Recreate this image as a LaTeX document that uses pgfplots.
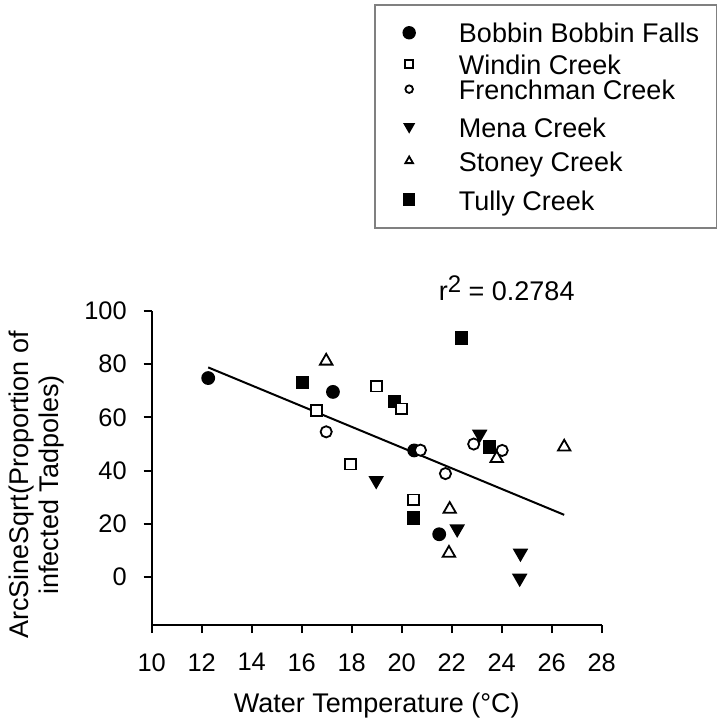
\documentclass[border=0pt]{standalone}
\usepackage{fontspec}
\setmainfont{Liberation Sans}
\usepackage{pgfplots}
\pgfplotsset{compat=1.18}
% strut for a legend row: depth, height above the baseline
\newcommand{\rowstrut}[2]{\rule[-#1]{0pt}{\dimexpr#1+#2\relax}}

\begin{document}
\begin{tikzpicture}
% 1px of the reference = 0.5pt; origin at the lower left of the plot area
\useasboundingbox (-75.85pt,-48.5pt) rectangle (282.65pt,312.5pt);
\begin{axis}[
  at={(0pt,0pt)}, anchor=south west,
  scale only axis, width=225pt, height=157pt,
  xmin=10, xmax=28, ymin=-18, ymax=100,
  xtick={10,12,...,28}, ytick={0,20,...,100},
  axis x line*=bottom, axis y line*=left,
  axis line style={line width=1pt, -},
  tick align=outside, major tick length=4pt,
  every tick/.style={black, line width=1pt},
  /pgf/number format/assume math mode=true,
  tick label style={font=\fontsize{12.7}{14}\selectfont, inner sep=0pt},
  yticklabel style={anchor=east, xshift=-8.3pt},
  xticklabel style={anchor=north, yshift=-10pt},
  xlabel={Water Temperature (°C)},
  every axis x label/.style={at={(axis description cs:0.5,0)}, anchor=north,
    yshift=-34pt, inner sep=0pt, font=\fontsize{13.5}{15}\selectfont},
  ylabel={ArcSineSqrt(Proportion of\\infected Tadpoles)},
  every axis y label/.style={at={(axis description cs:-0.1927,0.446)}, rotate=90,
    anchor=south, align=center, inner sep=0pt, font=\fontsize{13.5}{15}\selectfont},
  clip=false,
  legend style={at={(axis description cs:0.5584,1.9293)}, anchor=north west,
    draw=none, fill=none, inner sep=0pt, row sep=0pt,
    font=\fontsize{13.5}{15}\selectfont,
    nodes={inner sep=0pt},
    /tikz/every odd column/.append style={column sep=22pt}},
  legend cell align=left,
  every axis plot/.append style={line width=0.9pt},
]

% regression line
\addplot[black, line width=1pt, forget plot] coordinates {(12.26,78.8) (26.5,23.4)};

% Bobbin Bobbin Falls
\addplot[only marks, mark=*, mark size=3pt, black, forget plot] coordinates {
  (12.26,74.8) (17.25,69.6) (20.5,47.6) (21.5,16.1)};
% Mena Creek
\addplot[only marks, mark=triangle*, mark size=3.6pt, mark options={rotate=180}, black, forget plot] coordinates {
  (18.98,36.3) (23.12,53.7) (22.22,18.1) (24.75,9.0) (24.72,-0.4)};
% Tully Creek
\addplot[only marks, mark=square*, mark size=2.9pt, black, forget plot] coordinates {
  (16.02,73.1) (19.72,65.9) (22.38,89.9) (23.5,48.9) (20.48,22.2)};
% Windin Creek
\addplot[only marks, mark=square*, mark size=2.7pt, draw=black, fill=white, forget plot] coordinates {
  (16.58,62.5) (18.98,71.8) (19.98,63.2) (17.95,42.5) (20.47,29.0)};
% Frenchman Creek
\addplot[only marks, mark=*, mark size=2.8pt, draw=black, fill=white, forget plot] coordinates {
  (16.98,54.6) (20.75,47.7) (21.75,38.9) (22.88,50.0) (24.02,47.6)};
% Stoney Creek
\addplot[only marks, mark=triangle*, mark size=3.6pt, draw=black, fill=white, forget plot] coordinates {
  (16.98,81.2) (23.8,44.6) (26.5,48.9) (21.92,25.5) (21.89,9.0)};

\addlegendimage{only marks, mark=*, mark size=2.9pt, black}
\addlegendentry{Bobbin Bobbin Falls\rowstrut{3pt}{11.675pt}}
\addlegendimage{only marks, mark=square, mark size=1.9pt, black, line width=0.9pt, yshift=-0.95pt}
\addlegendentry{Windin Creek\rowstrut{3pt}{14.5pt}}
\addlegendimage{only marks, mark=o, mark size=1.9pt, black, line width=0.9pt, yshift=0.6pt}
\addlegendentry{Frenchman Creek\rowstrut{3pt}{10.9pt}}
\addlegendimage{only marks, mark=triangle*, mark size=2.6pt, mark options={rotate=180}, black, yshift=-2.45pt}
\addlegendentry{Mena Creek\rowstrut{3pt}{17.5pt}}
\addlegendimage{only marks, mark=triangle, mark size=2.2pt, black, line width=0.9pt, yshift=-1.6pt}
\addlegendentry{Stoney Creek\rowstrut{3pt}{15.5pt}}
\addlegendimage{only marks, mark=square*, mark size=2.7pt, black, yshift=-2.7pt}
\addlegendentry{Tully Creek\rowstrut{3pt}{18pt}}

\node[font=\fontsize{13.5}{15}\selectfont, inner sep=0pt] at (axis cs:24.2,108.6)
  {r\raisebox{0.6ex}{\fontsize{12}{12}\selectfont 2} = 0.2784};
\end{axis}
\draw[gray, line width=0.6pt] (111.65pt,198.5pt) rectangle (282.3pt,310pt);
\end{tikzpicture}
\end{document}
